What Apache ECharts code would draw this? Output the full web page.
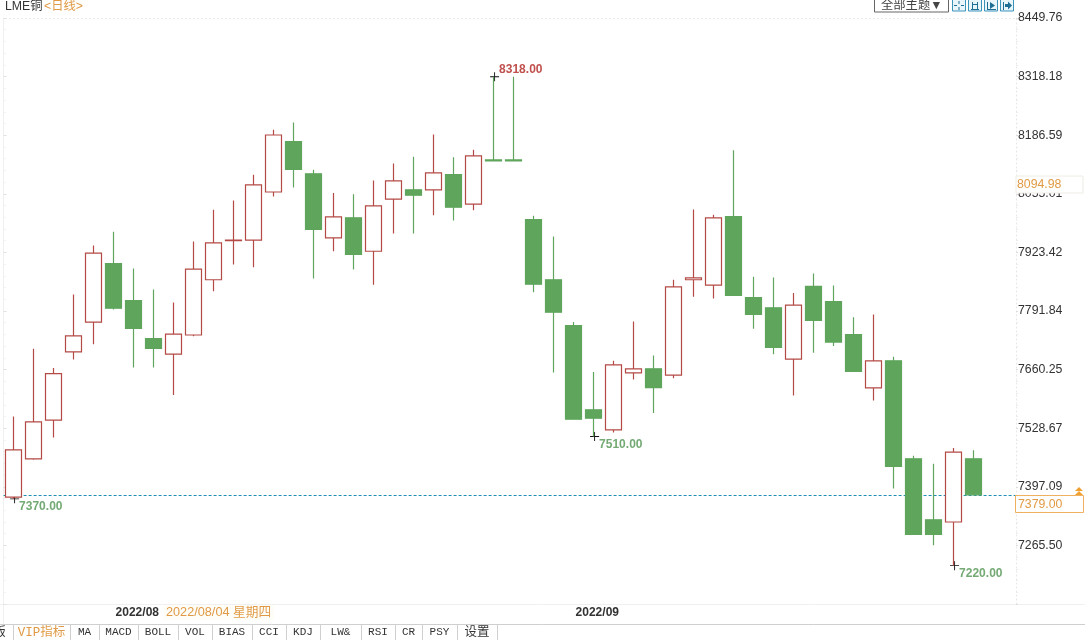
<!DOCTYPE html>
<html>
<head>
<meta charset="utf-8">
<style>html,body{margin:0;padding:0;background:#fff}#c{width:1085px;height:640px}</style>
<script src="https://cdn.jsdelivr.net/npm/echarts@6/dist/echarts.min.js"></script>
</head>
<body>
<div id="c"></div>
<script>
const categories = ['2022/07/25','2022/07/26','2022/07/27','2022/07/28','2022/07/29','2022/08/01','2022/08/02','2022/08/03','2022/08/04','2022/08/05','2022/08/08','2022/08/09','2022/08/10','2022/08/11','2022/08/12','2022/08/15','2022/08/16','2022/08/17','2022/08/18','2022/08/19','2022/08/22','2022/08/23','2022/08/24','2022/08/25','2022/08/26','2022/08/29','2022/08/30','2022/08/31','2022/09/01','2022/09/02','2022/09/05','2022/09/06','2022/09/07','2022/09/08','2022/09/09','2022/09/12','2022/09/13','2022/09/14','2022/09/15','2022/09/16','2022/09/19','2022/09/20','2022/09/21','2022/09/22','2022/09/23','2022/09/26','2022/09/27','2022/09/28','2022/09/29','',''];
const opens  = [7374,7460,7547,7700,7767,7898,7815,7730,7695,7738,7862,7950,7951,8059,8172,8100,7956,8001,7926,8043,8064,8064,8098,8032,8131,8131,7997,7862,7759,7570,7525,7653,7662,7648,7862,7850,8004,7822,7799,7684,7847,7813,7739,7619,7680,7460,7323,7318,7460];
const closes = [7480,7543,7651,7736,7922,7798,7753,7708,7740,7886,7945,7951,8075,8187,8110,7975,8003,7919,8028,8084,8052,8102,8025,8140,8129,8129,7852,7789,7549,7551,7671,7662,7620,7846,7866,8001,7827,7784,7710,7805,7771,7722,7656,7680,7443,7290,7290,7475,7379];
const lows   = [7370,7458,7508,7683,7717,7795,7665,7665,7603,7735,7836,7896,7890,8049,8069,7865,7926,7885,7851,7966,7966,8007,7995,8018,8129,8129,7834,7654,7549,7510,7519,7638,7563,7641,7824,7820,7827,7752,7695,7602,7698,7713,7656,7591,7393,7290,7266,7220,7379];
const highs  = [7555,7707,7664,7829,7939,7970,7887,7840,7811,7948,8019,8040,8098,8199,8215,8109,8057,8054,8085,8123,8138,8188,8137,8154,8318,8318,8006,7959,7767,7655,7680,7768,7692,7862,8020,8008,8153,7869,7867,7832,7876,7849,7778,7784,7689,7467,7449,7484,7479];
const tickLabels = [8449.76,8318.18,8186.59,8055.01,7923.42,7791.84,7660.25,7528.67,7397.09,7265.50];
const axisMin = 7133.92, axisMax = 8449.76, axisStep = 131.584;
const monthStarts = ['2022/08/01','2022/09/01'];
const lastPrice = 7379;
const hoverPrice = '8094.98';
const hoverDate = '2022/08/04 星期四';
const extremes = [
  {cat:'2022/07/25', value:7370, up:false},
  {cat:'2022/08/26', value:8318, up:true},
  {cat:'2022/09/02', value:7510, up:false},
  {cat:'2022/09/28', value:7220, up:false}
];
const tabNames = ['版','VIP指标','MA','MACD','BOLL','VOL','BIAS','CCI','KDJ','LW&','RSI','CR','PSY','设置'];
const tabEdges = [-14,13,70,99,138,178,212,252,286,320,361,395,422,457,497];

const RED='#b44a44', GREEN='#5fa55c', ORANGE='#e09a45', FAINT='#f0f0f0';
const candleData = opens.map((o,i)=>[o,closes[i],lows[i],highs[i]]);
const cross='path://M4.5 0h1v4.5h4.5v1H5.5V10h-1V5.5H0v-1h4.5z';

const g=[];
const line=(x1,y1,x2,y2,color,dash)=>g.push({type:'line',silent:true,shape:{x1,y1,x2,y2},style:{stroke:color,lineWidth:1,lineDash:dash||null}});
const text=(x,y,t,color,o)=>g.push(Object.assign({type:'text',silent:true,x,y,z:20,style:Object.assign({text:t,fill:color,font:'12.3px "Liberation Sans","Noto Sans CJK SC",sans-serif',textVerticalAlign:'middle'},o||{})}));

// frame
line(5,18.5,1015,18.5,'#ececec',[2,2]);
line(0,604.5,1085,604.5,FAINT);
line(0,624.5,1085,624.5,'#cfcfcf');
line(3.5,604,3.5,624,FAINT);

// header
text(5,6.5,'LME铜','#333');
text(44,6.5,'<日线>',ORANGE);
g.push({type:'rect',silent:true,shape:{x:874.5,y:-4,width:74,height:16},style:{fill:'#fff',stroke:'#666',lineWidth:1}});
text(881,6,'全部主题▼','#444');
[952,968,984,1000].forEach((x,k)=>{
  g.push({type:'rect',silent:true,shape:{x:x+.5,y:-1,width:13,height:12},style:{fill:'#e8f5fb',stroke:'#3b93b8',lineWidth:1}});
  const c='#1f6f94';
  if(k===0){line(x+7,1,x+7,4,c);line(x+7,7,x+7,10,c);line(x+2,5.5,x+5,5.5,c);line(x+9,5.5,x+12,5.5,c);}
  if(k===1){line(x+4.5,2,x+4.5,9,c);line(x+9.5,2,x+9.5,9,c);line(x+3,9.5,x+11,9.5,c);line(x+5,4.5,x+9,4.5,c);}
  if(k===2){line(x+3.5,2,x+3.5,10,c);line(x+3,9.5,x+12,9.5,c);g.push({type:'polygon',silent:true,shape:{points:[[x+6,2],[x+11,5.5],[x+6,9]]},style:{fill:c}});}
  if(k===3){line(x+3.5,2,x+3.5,10,c);g.push({type:'polygon',silent:true,shape:{points:[[x+8,1.5],[x+12,5.5],[x+8,9.5],[x+8,7],[x+5,7],[x+5,4],[x+8,4]]},style:{fill:c}});}
});

// right-hand value boxes
g.push({type:'rect',z:18,silent:true,shape:{x:1016,y:176,width:67,height:17},style:{fill:'#fff',stroke:'#f0ece4',lineWidth:1}});
text(1017,185,hoverPrice,ORANGE,{font:'12.3px "Liberation Sans",sans-serif'});
g.push({type:'rect',z:18,silent:true,shape:{x:1015.5,y:495.5,width:68,height:17},style:{fill:'#fff',stroke:'#efb061',lineWidth:1}});
text(1018,504.5,lastPrice.toFixed(2),ORANGE,{font:'12.3px "Liberation Sans",sans-serif'});
g.push({type:'polygon',z:19,silent:true,shape:{points:[[1079,487],[1083,491],[1075,491]]},style:{fill:'#f0a030'}});
g.push({type:'polygon',z:19,silent:true,shape:{points:[[1079,491],[1083,495],[1075,495]]},style:{fill:'#f0a030'}});

// hovered date
g.push({type:'rect',z:18,silent:true,shape:{x:164,y:605,width:110,height:15},style:{fill:'#fffdf8'}});
text(166,612.5,hoverDate,ORANGE,{font:'12.7px "Liberation Sans","Noto Sans CJK SC",sans-serif'});

// tab bar
tabNames.forEach((name,i)=>{
  const a=tabEdges[i],b=tabEdges[i+1];
  line(b+.5,625,b+.5,640,'#cfcfcf');
  const cjk=/[^\x00-\x7f]/.test(name);
  text((a+b)/2,632.5,name,i===1?ORANGE:'#333',{textAlign:'center',font:(cjk?'12.5px':'11px')+' "Liberation Mono","Noto Sans CJK SC",monospace'});
});

const option={
  animation:false,
  textStyle:{fontFamily:'"Liberation Sans","Noto Sans CJK SC",sans-serif'},
  grid:{left:3.6,top:18,width:1020,height:586,containLabel:false},
  xAxis:{type:'category',data:categories,axisLine:{show:false},axisTick:{show:false},splitLine:{show:false},
    axisLabel:{margin:3,hideOverlap:false,interval:(i,v)=>monthStarts.includes(v),align:'left',
      formatter:v=>'{m|'+v.slice(0,7)+'}',
      rich:{m:{fontWeight:'bold',fontSize:12,color:'#333',padding:[0,0,0,2]}}}},
  yAxis:[
    {type:'value',position:'right',offset:-7.6,min:axisMin,max:axisMax,interval:axisStep,scale:true,
     splitLine:{show:false},
     axisLine:{show:true,onZero:false,lineStyle:{color:'#e6e6e6',type:[1,3]}},
     axisTick:{show:true,length:2,lineStyle:{color:'#dcdcdc'}},
     minorTick:{show:true,splitNumber:5,length:2,lineStyle:{color:'#ebebeb'}},
     axisLabel:{margin:2,customValues:tickLabels,showMinLabel:true,showMaxLabel:true,color:'#333',fontSize:12.3,formatter:v=>v.toFixed(2)}},
    {type:'value',position:'left',min:axisMin,max:axisMax,interval:axisStep,scale:true,
     splitLine:{show:false},axisLabel:{show:false},
     axisLine:{show:true,onZero:false,lineStyle:{color:FAINT}},
     axisTick:{show:true,inside:true,length:3,lineStyle:{color:'#e2e2e2'}},
     minorTick:{show:true,splitNumber:5,length:2,lineStyle:{color:'#efefef'}}}
  ],
  series:[
    {type:'line',data:[],z:1,silent:true,yAxisIndex:0,
     markLine:{silent:true,symbol:'none',animation:false,z:1,label:{show:false},
       lineStyle:{color:'#1f8fb5',type:[3,2],width:1},data:[{yAxis:lastPrice}]}},
    {type:'candlestick',z:5,barWidth:16,clip:false,yAxisIndex:0,
     data:candleData,
     itemStyle:{color:'#fff',color0:GREEN,borderColor:RED,borderColor0:GREEN,borderColorDoji:RED,borderWidth:1.2},
     markPoint:{silent:true,animation:false,symbol:cross,symbolSize:9,symbolOffset:[1,0],
       itemStyle:{color:'#111'},
       data:extremes.map(e=>({coord:[e.cat,e.value],value:e.value,
         label:{show:true,position:'right',distance:0,offset:[0,e.up?-7:8],
           formatter:e.value.toFixed(2),fontWeight:'bold',fontSize:12,
           color:e.up?'#c0504d':'#74aa74'}}))}}
  ],
  graphic:{elements:g}
};
echarts.init(document.getElementById('c'),null,{renderer:'canvas'}).setOption(option);
</script>
</body>
</html>
